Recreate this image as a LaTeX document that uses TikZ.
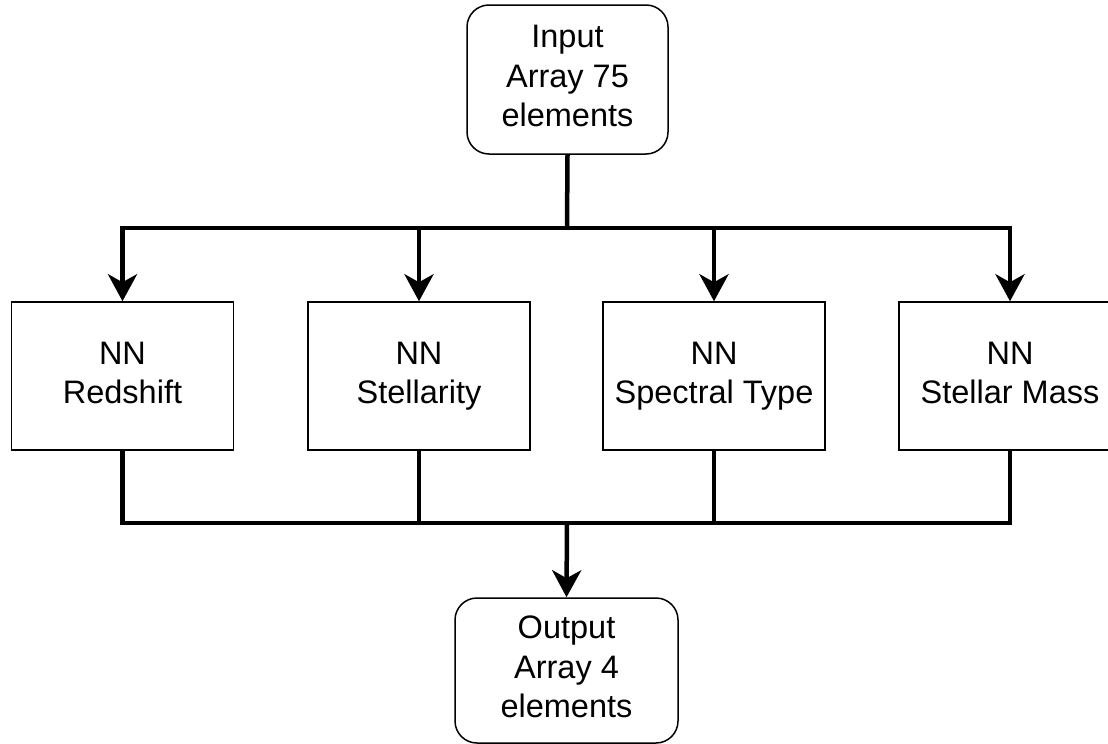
\documentclass[tikz,border=0pt]{standalone}
\usepackage{fontspec}
\setmainfont{Liberation Sans}
\usetikzlibrary{arrows.meta}
\tikzset{
  rbox/.style={draw=black, line width=1.5pt, rounded corners=22pt, align=center,
    font=\fontsize{32.5}{39.5}\selectfont, inner sep=0pt},
  nnbox/.style={draw=black, line width=1.5pt, align=center, minimum width=222pt,
    minimum height=148pt, font=\fontsize{32.5}{39.5}\selectfont, inner sep=0pt},
  conn/.style={line width=4.5pt, line join=miter},
  arr/.style={conn, -{Stealth[length=27pt, width=29pt, inset=8pt]}}
}
\begin{document}
\begin{tikzpicture}[x=1pt, y=-1pt]
\useasboundingbox (0,0) rectangle (1108,744);
\fill[white] (0,0) rectangle (1108,744);
\node[rbox, minimum width=201pt, minimum height=149pt] (in) at (567.5,79.5) {Input\strut\\Array 75\strut\\elements\strut};
\node[nnbox] (b1) at (122.5,376) {NN\strut\\Redshift\strut};
\node[nnbox] (b2) at (419,376) {NN\strut\\Stellarity\strut};
\node[nnbox] (b3) at (714,376) {NN\strut\\Spectral Type\strut};
\node[nnbox] (b4) at (1010,376) {NN\strut\\Stellar Mass\strut};
\node[rbox, minimum width=223pt, minimum height=145pt] (out) at (566.5,670.5) {Output\strut\\Array 4\strut\\elements\strut};
\coordinate (top) at (567,228);
\coordinate (bot) at (567,523);
\draw[conn] (in.south) -- (top);
\draw[arr] (top) -| (b1.north);
\draw[arr] (top) -| (b4.north);
\draw[arr] (b2.north |- top) -- (b2.north);
\draw[arr] (b3.north |- top) -- (b3.north);
\draw[conn] (b1.south) |- (bot);
\draw[conn] (b4.south) |- (bot);
\draw[conn] (b2.south) -- (b2.south |- bot);
\draw[conn] (b3.south) -- (b3.south |- bot);
\draw[arr] (bot) -- (out.north);
\end{tikzpicture}
\end{document}
